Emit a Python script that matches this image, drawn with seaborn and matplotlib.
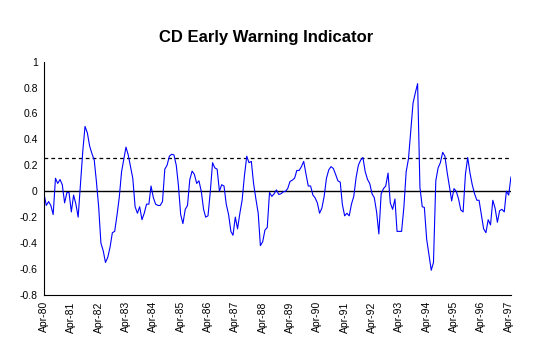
import numpy as np
import pandas as pd
import matplotlib
matplotlib.use("Agg")
import matplotlib.pyplot as plt
import matplotlib.dates as mdates
import seaborn as sns

# monthly indicator values, Apr-80 .. May-97
values = [
    -0.02, -0.11, -0.08, -0.11, -0.18, 0.10, 0.06, 0.09, 0.05, -0.09,
    -0.01, -0.01, -0.16, -0.03, -0.10, -0.20, 0.05, 0.31, 0.50, 0.45,
    0.35, 0.29, 0.24, 0.08, -0.12, -0.40, -0.46, -0.55, -0.51, -0.43,
    -0.32, -0.31, -0.19, -0.05, 0.15, 0.24, 0.34, 0.28, 0.19, 0.10,
    -0.12, -0.17, -0.12, -0.22, -0.17, -0.10, -0.10, 0.04, -0.05, -0.10,
    -0.11, -0.11, -0.08, 0.17, 0.20, 0.27, 0.285, 0.28, 0.20, 0.05,
    -0.18, -0.25, -0.14, -0.11, 0.09, 0.155, 0.13, 0.06, 0.08, 0.00,
    -0.14, -0.20, -0.19, -0.01, 0.22, 0.18, 0.17, 0.00, 0.05, 0.04,
    -0.10, -0.18, -0.31, -0.34, -0.20, -0.29, -0.17, -0.07, 0.12, 0.27,
    0.22, 0.23, 0.06, -0.06, -0.17, -0.42, -0.39, -0.30, -0.28, -0.01,
    -0.04, -0.02, 0.01, -0.025, -0.02, -0.005, 0.00, 0.02, 0.075, 0.085,
    0.10, 0.16, 0.16, 0.19, 0.23, 0.13, 0.04, 0.04, -0.03, -0.05,
    -0.09, -0.17, -0.13, -0.04, 0.10, 0.165, 0.19, 0.175, 0.13, 0.08,
    0.07, -0.10, -0.19, -0.17, -0.19, -0.10, -0.04, 0.105, 0.20, 0.24,
    0.26, 0.15, 0.09, 0.06, -0.02, -0.05, -0.16, -0.33, -0.02, 0.02,
    0.04, 0.14, -0.09, -0.14, -0.06, -0.31, -0.31, -0.31, -0.12, 0.15,
    0.25, 0.47, 0.68, 0.76, 0.83, 0.03, -0.12, -0.125, -0.37, -0.49,
    -0.61, -0.55, 0.08, 0.18, 0.22, 0.30, 0.27, 0.14, 0.03, -0.075,
    0.02, 0.00, -0.06, -0.145, -0.16, 0.13, 0.26, 0.14, 0.05, -0.02,
    -0.07, -0.07, -0.18, -0.29, -0.32, -0.22, -0.26, -0.07, -0.13, -0.24,
    -0.15, -0.14, -0.16, 0.00, -0.03, 0.11,
]
dates = pd.date_range("1980-04-01", periods=len(values), freq="MS")
warning_level = 0.255
y_ticks = [1, 0.8, 0.6, 0.4, 0.2, 0, -0.2, -0.4, -0.6, -0.8]

df = pd.DataFrame({"date": dates, "value": values})

sns.set_style("white")
plt.rcParams["font.family"] = ["Liberation Sans", "DejaVu Sans"]

fig = plt.figure(figsize=(5.33, 3.54), dpi=100)
ax = fig.add_axes([0.0826, 0.167, 0.876, 0.659])

sns.lineplot(data=df, x="date", y="value", ax=ax, color="#0000ff", linewidth=0.8)
ax.axhline(0, color="black", linewidth=1.0, zorder=1)
ax.axhline(warning_level, color="black", linewidth=0.9, linestyle=(0, (3, 2.5)), zorder=1)

ax.set_xlim(dates[0], dates[-1])
ax.set_ylim(-0.8, 1)
ax.set_yticks(y_ticks)
ax.set_yticklabels([f"{t:g}" for t in y_ticks])

ax.xaxis.set_major_locator(mdates.MonthLocator(bymonth=4))
ax.xaxis.set_minor_locator(mdates.MonthLocator(bymonth=10))
ax.xaxis.set_major_formatter(mdates.DateFormatter("%b-%y"))
plt.setp(ax.get_xticklabels(), rotation=90)

ax.tick_params(axis="both", which="both", direction="inout", length=5, width=0.8,
               labelsize=7.5, colors="black", pad=2)
ax.tick_params(axis="x", which="minor", length=5)

for side in ["top", "right"]:
    ax.spines[side].set_visible(False)
for side in ["left", "bottom"]:
    ax.spines[side].set_color("black")
    ax.spines[side].set_linewidth(0.8)

ax.set_xlabel("")
ax.set_ylabel("")
fig.text(0.5, 0.895, "CD Early Warning Indicator", ha="center", va="center",
         fontsize=12, fontweight="bold", color="black")

fig.savefig("out.png", dpi=100, facecolor="white")
